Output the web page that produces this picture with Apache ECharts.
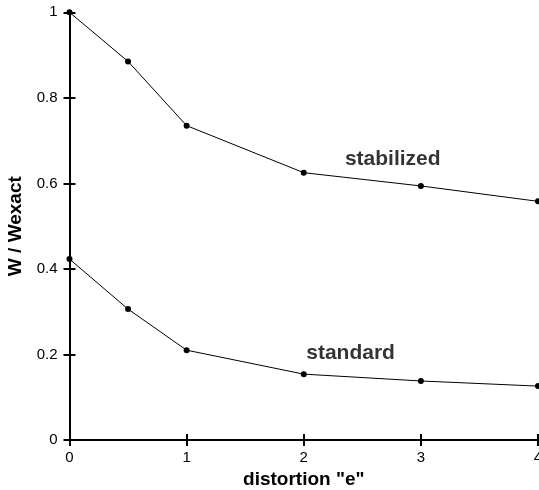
<!DOCTYPE html>
<html><head><meta charset="utf-8">
<script src="https://cdn.jsdelivr.net/npm/echarts@6/dist/echarts.min.js"></script>
<style>html,body{margin:0;padding:0;background:#fff}#c{width:539px;height:490px}</style>
</head><body><div id="c"></div>
<script>
const xValues = [0, 0.5, 1, 2, 3, 4];
const stabilized = [1.0, 0.885, 0.735, 0.625, 0.594, 0.558];
const standard = [0.423, 0.306, 0.210, 0.154, 0.138, 0.126];
const seriesLabels = [
  {name: 'stabilized', x: 2.76, y: 0.657},
  {name: 'standard', x: 2.40, y: 0.202}
];
const xTitle = 'distortion "e"';
const yTitle = 'W / Wexact';

const font = '"Liberation Sans", Arial, sans-serif';
const chart = echarts.init(document.getElementById('c'), null, {renderer: 'canvas'});
const lineSeries = (data) => ({
  type: 'line', data: xValues.map((x, i) => [x, data[i]]),
  symbol: 'circle', symbolSize: 6, clip: false,
  lineStyle: {color: '#000', width: 1}, itemStyle: {color: '#000'},
  animation: false
});
const axisLineStyle = {lineStyle: {color: '#000', width: 2}};
chart.setOption({
  animation: false,
  grid: {left: 69.5, right: 1, top: 12.3, bottom: 50, containLabel: false, outerBoundsMode: 'none'},
  xAxis: [
    {type: 'value', min: 0, max: 4, interval: 1,
     name: xTitle, nameLocation: 'middle', nameGap: 29,
     nameTextStyle: {fontFamily: font, fontWeight: 'bold', fontSize: 19, color: '#000'},
     axisLine: axisLineStyle, splitLine: {show: false},
     axisTick: {length: 6, lineStyle: {color: '#000', width: 2}},
     axisLabel: {fontFamily: font, fontSize: 15, color: '#000', margin: 10}},
    {type: 'value', min: 0, max: 4, interval: 1, position: 'bottom',
     axisLine: {show: false}, splitLine: {show: false}, axisLabel: {show: false},
     axisTick: {inside: true, length: 6, lineStyle: {color: '#000', width: 2}}}
  ],
  yAxis: [
    {type: 'value', min: 0, max: 1, interval: 0.2,
     name: yTitle, nameLocation: 'middle', nameGap: 42, nameRotate: 90,
     nameTextStyle: {fontFamily: font, fontWeight: 'bold', fontSize: 19, color: '#000'},
     axisLine: axisLineStyle, splitLine: {show: false},
     axisTick: {length: 6, lineStyle: {color: '#000', width: 2}},
     axisLabel: {fontFamily: font, fontSize: 15, color: '#000', margin: 12}},
    {type: 'value', min: 0, max: 1, interval: 0.2, position: 'left',
     axisLine: {show: false}, splitLine: {show: false}, axisLabel: {show: false},
     axisTick: {inside: true, length: 6, lineStyle: {color: '#000', width: 2}}}
  ],
  series: [
    lineSeries(stabilized),
    lineSeries(standard),
    {type: 'scatter', symbolSize: 0, silent: true,
     data: seriesLabels.map(l => ({value: [l.x, l.y], name: l.name})),
     label: {show: true, position: 'inside', formatter: p => p.name,
             fontFamily: font, fontWeight: 'bold', fontSize: 21, color: '#000'}}
  ]
});
</script></body></html>
